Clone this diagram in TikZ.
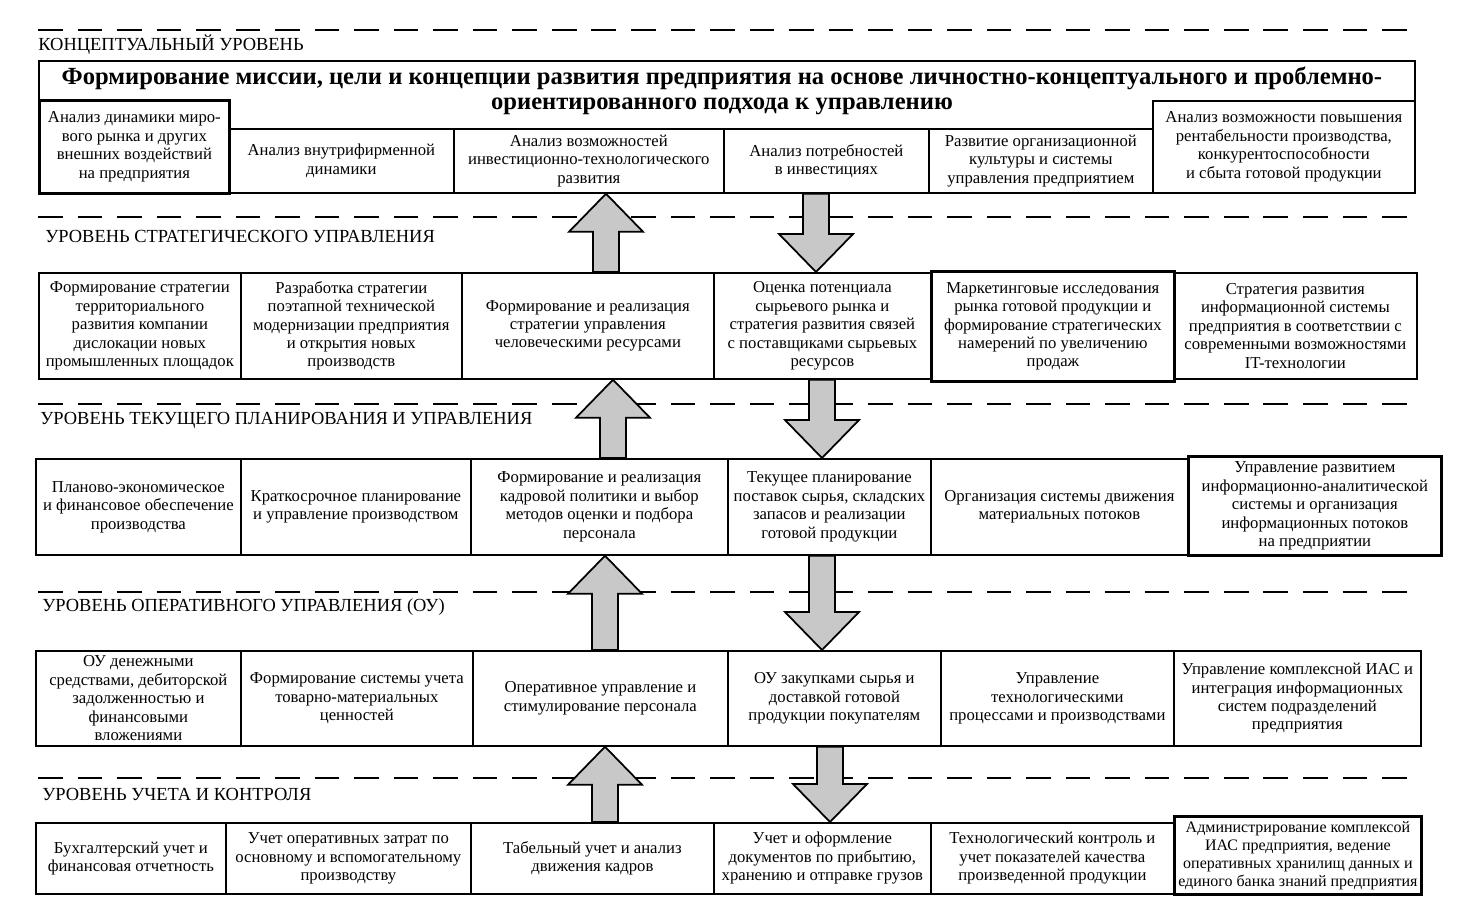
\documentclass[tikz,border=0pt]{standalone}
\usepackage{fontspec}
\setmainfont{Liberation Serif}
\usetikzlibrary{calc}
\definecolor{arrowgray}{RGB}{200,200,200}

\begin{document}
\begin{tikzpicture}[x=0.02cm, y=-0.02cm,
	cell/.style={draw, line width=1pt, anchor=north west, align=center, inner sep=1pt,
		font=\fontsize{9.5}{10.5}\selectfont},
	thickcell/.style={cell, line width=1.6pt},
	level/.style={anchor=west, inner sep=0pt, font=\fontsize{10.5}{12}\selectfont},
	levelline/.style={line width=1.1pt, dash pattern=on 14pt off 8.5pt},
	blockarrow/.style={draw, fill=arrowgray, line width=1pt, line join=miter}]
	\useasboundingbox (0,0) rectangle (1477,920);
	
	% Разделители уровней
	\foreach \y in {30,217,404,592,778}
	\draw[levelline] (38,\y) -- (1413,\y);
	
	% Названия уровней
	\node[level] (lev1) at (38,45) {КОНЦЕПТУАЛЬНЫЙ УРОВЕНЬ};
	\node[level] (lev2) at (45,236) {УРОВЕНЬ СТРАТЕГИЧЕСКОГО УПРАВЛЕНИЯ};
	\node[level] (lev3) at (40,420) {УРОВЕНЬ ТЕКУЩЕГО ПЛАНИРОВАНИЯ И УПРАВЛЕНИЯ};
	\node[level] (lev4) at (42,607) {УРОВЕНЬ ОПЕРАТИВНОГО УПРАВЛЕНИЯ (ОУ)};
	\node[level] (lev5) at (42,794) {УРОВЕНЬ УЧЕТА И КОНТРОЛЯ};
	
	% Концептуальный уровень
	\node[cell, minimum width=27.52cm, minimum height=2.64cm] (mission) at (38,60) {};
	\node[anchor=north, align=center, inner sep=0pt, font=\bfseries\fontsize{14}{14}\selectfont] (missiontext) at (722,67)
	{Формирование миссии, цели и концепции развития предприятия на основе личностно-концептуального и проблемно-\\
		ориентированного подхода к управлению};
	\node[thickcell, minimum width=3.80cm, minimum height=1.86cm] (c11) at (38,99)
	{Анализ динамики миро-\\вого рынка и других\\внешних воздействий\\на предприятия};
	\node[cell, minimum width=4.50cm, minimum height=1.28cm] (c12) at (228,128)
	{Анализ внутрифирменной\\динамики};
	\node[cell, minimum width=5.40cm, minimum height=1.28cm] (c13) at (453,128)
	{Анализ возможностей\\инвестиционно-технологического\\развития};
	\node[cell, minimum width=4.10cm, minimum height=1.28cm] (c14) at (723,128)
	{Анализ потребностей\\в инвестициях};
	\node[cell, minimum width=4.48cm, minimum height=1.28cm] (c15) at (928,128)
	{Развитие организационной\\культуры и системы\\управления предприятием};
	\node[cell, minimum width=5.24cm, minimum height=1.84cm] (c16) at (1152,100)
	{Анализ возможности повышения\\рентабельности производства,\\конкурентоспособности\\и сбыта готовой продукции};
	
	% Уровень стратегического управления
	\node[cell, minimum width=4.04cm, minimum height=2.12cm] (c21) at (38,272)
	{Формирование стратегии\\территориального\\развития компании\\дислокации новых\\промышленных площадок};
	\node[cell, minimum width=4.42cm, minimum height=2.12cm] (c22) at (240,272)
	{Разработка стратегии\\поэтапной технической\\модернизации предприятия\\и открытия новых\\производств};
	\node[cell, minimum width=5.04cm, minimum height=2.12cm] (c23) at (461,272)
	{Формирование и реализация\\стратегии управления\\человеческими ресурсами};
	\node[cell, minimum width=4.34cm, minimum height=2.12cm] (c24) at (713,272)
	{Оценка потенциала\\сырьевого рынка и\\стратегия развития связей\\с поставщиками сырьевых\\ресурсов};
	\node[thickcell, minimum width=4.86cm, minimum height=2.20cm] (c25) at (930,270)
	{Маркетинговые исследования\\рынка готовой продукции и\\формирование стратегических\\намерений по увеличению\\продаж};
	\node[cell, minimum width=4.86cm, minimum height=2.12cm] (c26) at (1173,272)
	{Стратегия развития\\информационной системы\\предприятия в соответствии с\\современными возможностями\\IT-технологии};
	
	% Уровень текущего планирования и управления
	\node[cell, minimum width=4.10cm, minimum height=1.92cm] (c31) at (35,458)
	{Планово-экономическое\\и финансовое обеспечение\\производства};
	\node[cell, minimum width=4.60cm, minimum height=1.92cm] (c32) at (240,458)
	{Краткосрочное планирование\\и управление производством};
	\node[cell, minimum width=5.14cm, minimum height=1.92cm] (c33) at (470,458)
	{Формирование и реализация\\кадровой политики и выбор\\методов оценки и подбора\\персонала};
	\node[cell, minimum width=4.06cm, minimum height=1.92cm] (c34) at (727,458)
	{Текущее планирование\\поставок сырья, складских\\запасов и реализации\\готовой продукции};
	\node[cell, minimum width=5.14cm, minimum height=1.92cm] (c35) at (930,458)
	{Организация системы движения\\материальных потоков};
	\node[thickcell, minimum width=5.06cm, minimum height=1.98cm] (c36) at (1187,455)
	{Управление развитием\\информационно-аналитической\\системы и организация\\информационных потоков\\на предприятии};
	
	% Уровень оперативного управления
	\node[cell, minimum width=4.10cm, minimum height=1.90cm] (c41) at (35,650)
	{ОУ денежными\\средствами, дебиторской\\задолженностью и\\финансовыми\\вложениями};
	\node[cell, minimum width=4.64cm, minimum height=1.90cm] (c42) at (240,650)
	{Формирование системы учета\\товарно-материальных\\ценностей};
	\node[cell, minimum width=5.10cm, minimum height=1.90cm] (c43) at (472,650)
	{Оперативное управление и\\стимулирование персонала};
	\node[cell, minimum width=4.26cm, minimum height=1.90cm] (c44) at (727,650)
	{ОУ закупками сырья и\\доставкой готовой\\продукции покупателям};
	\node[cell, minimum width=4.66cm, minimum height=1.90cm] (c45) at (940,650)
	{Управление\\технологическими\\процессами и производствами};
	\node[cell, minimum width=4.94cm, minimum height=1.90cm] (c46) at (1173,650)
	{Управление комплексной ИАС и\\интеграция информационных\\систем подразделений\\предприятия};
	
	% Уровень учета и контроля
	\node[cell, minimum width=3.80cm, minimum height=1.42cm] (c51) at (35,822)
	{Бухгалтерский учет и\\финансовая отчетность};
	\node[cell, minimum width=4.90cm, minimum height=1.42cm] (c52) at (225,822)
	{Учет оперативных затрат по\\основному и вспомогательному\\производству};
	\node[cell, minimum width=4.86cm, minimum height=1.42cm] (c53) at (470,822)
	{Табельный учет и анализ\\движения кадров};
	\node[cell, minimum width=4.34cm, minimum height=1.42cm] (c54) at (713,822)
	{Учет и оформление\\документов по прибытию,\\хранению и отправке грузов};
	\node[cell, minimum width=4.86cm, minimum height=1.42cm] (c55) at (930,822)
	{Технологический контроль и\\учет показателей качества\\произведенной продукции};
	\node[thickcell, minimum width=4.94cm, minimum height=1.56cm, font=\fontsize{9.1}{10.3}\selectfont] (c56) at (1173,815)
	{Администрирование комплексой\\ИАС предприятия, ведение\\оперативных хранилищ данных и\\единого банка знаний предприятия};
	
	% Стрелки между уровнями (вверх и вниз)
	\foreach \a/\b/\ux/\dx in {1/2/606/816, 2/3/613/822, 3/4/605/822, 4/5/605/830}{
		\coordinate (ux) at (\ux,0);
		\coordinate (t) at (ux |- c\b3.north);
		\coordinate (h) at (ux |- c\a3.south);
		\draw[blockarrow] ($(t)+(-13,0)$) -- ($(h)+(-13,38)$) -- ($(h)+(-37,38)$) -- (h)
		-- ($(h)+(37,38)$) -- ($(h)+(13,38)$) -- ($(t)+(13,0)$) -- cycle;
		\coordinate (dx) at (\dx,0);
		\coordinate (t) at (dx |- c\a4.south);
		\coordinate (h) at (dx |- c\b4.north);
		\draw[blockarrow] ($(t)+(-13,0)$) -- ($(h)+(-13,-38)$) -- ($(h)+(-37,-38)$) -- (h)
		-- ($(h)+(37,-38)$) -- ($(h)+(13,-38)$) -- ($(t)+(13,0)$) -- cycle;
	}
\end{tikzpicture}
\end{document}
